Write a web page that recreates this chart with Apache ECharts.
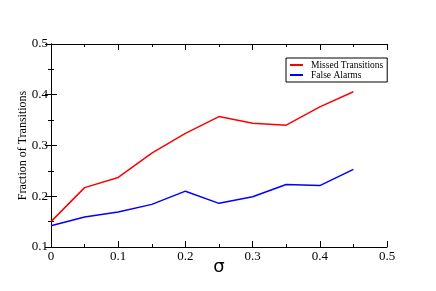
<!DOCTYPE html>
<html><head><meta charset="utf-8">
<script src="https://cdn.jsdelivr.net/npm/echarts@6/dist/echarts.min.js"></script>
<style>html,body{margin:0;padding:0;background:#fff}#c{width:436px;height:291px}</style>
</head><body><div id="c"></div>
<script>
const sigma = [0, 0.05, 0.1, 0.15, 0.2, 0.25, 0.3, 0.35, 0.4, 0.45];
const missed = [0.150, 0.217, 0.237, 0.285, 0.324, 0.357, 0.344, 0.340, 0.376, 0.406];
const falseAlarms = [0.142, 0.159, 0.169, 0.184, 0.210, 0.186, 0.199, 0.223, 0.221, 0.253];
const seriesNames = ['Missed Transitions', 'False Alarms'];

const serif = '"Liberation Serif", "Times New Roman", serif';
const chart = echarts.init(document.getElementById('c'));
const major = {
  axisLine: {show: true, lineStyle: {color: '#000', width: 1}},
  axisTick: {show: true, inside: true, length: 6, lineStyle: {color: '#000'}},
  minorTick: {show: true, splitNumber: 2, length: 3, lineStyle: {color: '#000'}},
  splitLine: {show: false}
};
const xRange = {type: 'value', min: 0, max: 0.5, interval: 0.1};
const yRange = {type: 'value', min: 0.1, max: 0.5, interval: 0.1};
chart.setOption({
  animation: false,
  grid: {left: 51, right: 49, top: 44, bottom: 44},
  legend: {
    data: seriesNames, orient: 'vertical', left: 286, top: 58,
    padding: [2, 4, 2, 4], itemGap: 0, itemWidth: 13, itemHeight: 2, icon: 'rect',
    borderColor: '#000', borderWidth: 1, backgroundColor: '#fff',
    textStyle: {fontFamily: serif, fontSize: 9.5, color: '#000', padding: [0, 0, 0, 3]}
  },
  xAxis: [
    Object.assign({}, xRange, major, {position: 'bottom',
      name: 'σ', nameLocation: 'middle', nameGap: 11, nameMoveOverlap: false,
      nameTextStyle: {fontFamily: 'DejaVu Sans, sans-serif', fontSize: 18, color: '#000'},
      axisLabel: {fontFamily: serif, fontSize: 13, color: '#000', margin: 3}}),
    Object.assign({}, xRange, major, {position: 'top', axisLabel: {show: false}})
  ],
  yAxis: [
    Object.assign({}, yRange, major, {position: 'left',
      name: 'Fraction of Transitions', nameLocation: 'middle', nameGap: 22, nameMoveOverlap: false,
      nameTextStyle: {fontFamily: serif, fontSize: 12, color: '#000'},
      axisLabel: {fontFamily: serif, fontSize: 13, color: '#000', margin: 3,
        formatter: v => v.toFixed(1)}}),
    Object.assign({}, yRange, major, {position: 'right', axisLabel: {show: false}})
  ],
  series: [
    {name: seriesNames[0], type: 'line', xAxisIndex: 0, yAxisIndex: 0,
      data: sigma.map((s, i) => [s, missed[i]]),
      showSymbol: false, lineStyle: {color: '#ff0000', width: 1.5}, itemStyle: {color: '#ff0000'}},
    {name: seriesNames[1], type: 'line', xAxisIndex: 0, yAxisIndex: 0,
      data: sigma.map((s, i) => [s, falseAlarms[i]]),
      showSymbol: false, lineStyle: {color: '#0000ff', width: 1.5}, itemStyle: {color: '#0000ff'}}
  ]
});
</script></body></html>
